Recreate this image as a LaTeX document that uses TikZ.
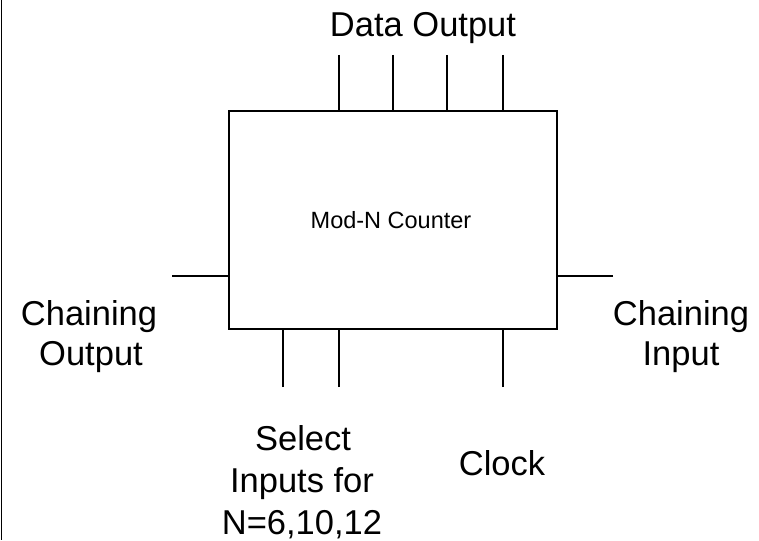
\documentclass[tikz,border=0pt]{standalone}
\usepackage{fontspec}
\setmainfont{Liberation Sans}
\begin{document}
\begin{tikzpicture}[x=1pt,y=-1pt,
  pin/.style={line width=2.2pt},
  blk/.style={draw,line width=2.2pt,minimum width=328pt,minimum height=218pt,inner sep=0pt},
  lbl/.style={anchor=base,inner sep=0pt,font=\fontsize{34.5}{41}\selectfont}]
\useasboundingbox (0,0) rectangle (759,540);
\draw[line width=1.5pt] (1.5,0) -- (1.5,540);
\node[blk] (box) at (393,220) {};
\node[inner sep=0pt,font=\fontsize{23.5}{27}\selectfont,anchor=base] (boxlbl) at (391,228) {Mod-N Counter};
% top pins
\coordinate (t1) at (339,55); \coordinate (t2) at (393,55);
\coordinate (t3) at (447,55); \coordinate (t4) at (503,55);
\draw[pin] (t1) -- (t1 |- box.north);
\draw[pin] (t2) -- (t2 |- box.north);
\draw[pin] (t3) -- (t3 |- box.north);
\draw[pin] (t4) -- (t4 |- box.north);
% side pins
\coordinate (l1) at (172,276); \coordinate (r1) at (613,276);
\draw[pin] (l1) -- (l1 -| box.west);
\draw[pin] (r1) -- (r1 -| box.east);
% bottom pins
\coordinate (b1) at (283,387); \coordinate (b2) at (339,387); \coordinate (b3) at (503,387);
\draw[pin] (b1) -- (b1 |- box.south);
\draw[pin] (b2) -- (b2 |- box.south);
\draw[pin] (b3) -- (b3 |- box.south);
% labels
\node[lbl] (dout) at (423,37) {Data Output};
\node[lbl] (co1) at (89,325) {Chaining};
\node[lbl] (co2) at (91,365) {Output};
\node[lbl] (ci1) at (681,325) {Chaining};
\node[lbl] (ci2) at (681,365) {Input};
\node[lbl] (s1) at (303,450) {Select};
\node[lbl] (s2) at (302,492) {Inputs for};
\node[lbl] (s3) at (302,534) {N=6,10,12};
\node[lbl] (clk) at (502,475) {Clock};
\end{tikzpicture}
\end{document}
